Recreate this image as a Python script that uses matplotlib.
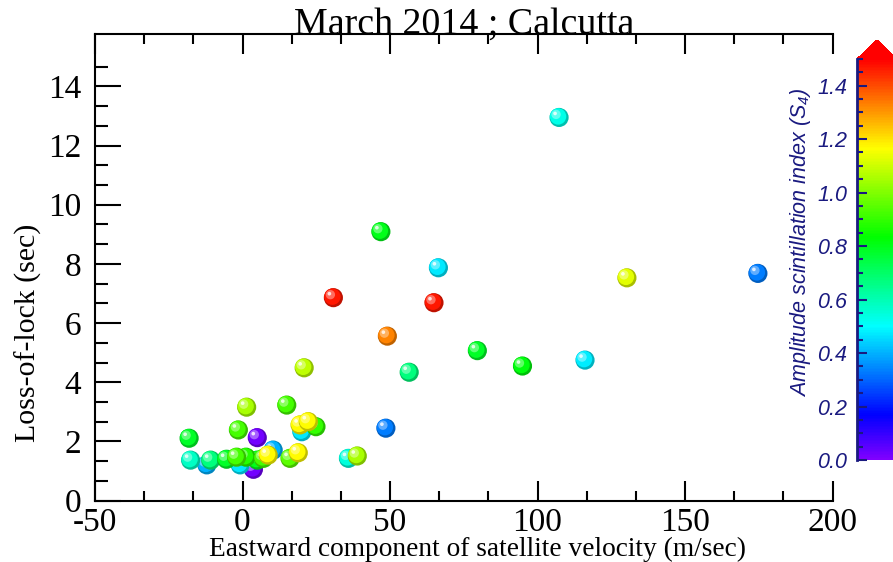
import numpy as np
import matplotlib
matplotlib.use("Agg")
import matplotlib.pyplot as plt
from matplotlib.colors import ListedColormap, Normalize, hsv_to_rgb
from matplotlib.ticker import MultipleLocator, FixedLocator
from matplotlib.transforms import ScaledTranslation
from matplotlib.lines import Line2D

# rychlost satelitu (m/s), doba ztraty signalu (s), index S4
rychlost = [107.3, 46.9, 66.4, 30.8, 64.9, 49.1, 130.3, 174.7, 79.6, 94.9,
            116.1, 56.5, 20.9, 48.6,
            -18.1, 1.4, 15.0, -1.4, 5.0, 20.1, 19.5, 22.3, 24.9,
            -17.6, -12.1, -10.8, -5.4, -2.0, -0.8, 1.2, 3.7, 5.0, 7.1,
            10.4, 8.7, 16.1, 18.9, 35.9, 38.9]
ztrata = [12.95, 9.09, 7.87, 6.86, 6.69, 5.56, 7.53, 7.68, 5.07, 4.55,
          4.75, 4.34, 4.49, 2.45,
          2.11, 3.16, 3.23, 2.39, 2.13, 2.33, 2.56, 2.67, 2.50,
          1.37, 1.21, 1.37, 1.40, 1.47, 1.21, 1.47, 1.06, 1.37, 1.43,
          1.71, 1.54, 1.43, 1.62, 1.43, 1.51]
s4 = [0.53, 0.80, 0.47, 1.47, 1.47, 1.33, 1.13, 0.33, 0.78, 0.82,
      0.48, 0.67, 1.08, 0.33,
      0.78, 1.05, 0.92, 0.92, 0.02, 0.47, 1.17, 1.17, 0.90,
      0.58, 0.40, 0.67, 0.78, 0.92, 0.47, 0.88, 0.02, 0.80, 0.92,
      0.40, 1.17, 0.95, 1.17, 0.55, 1.05]

nadpis = "March 2014 ; Calcutta"
popis_x = "Eastward component of satellite velocity (m/sec)"
popis_y = "Loss-of-lock (sec)"
popis_cb = r"Amplitude scintillation index (S$_{\mathit{4}}$)"
cb_ticks = [0.0, 0.2, 0.4, 0.6, 0.8, 1.0, 1.2, 1.4]

navy = "#1a1a80"

plt.rcParams["font.family"] = ["Liberation Serif", "DejaVu Serif"]
plt.rcParams["axes.unicode_minus"] = False
plt.rcParams["mathtext.fontset"] = "custom"
plt.rcParams["mathtext.it"] = "Liberation Sans:italic"
plt.rcParams["mathtext.rm"] = "Liberation Sans:italic"

# duhova paleta: fialova (0) -> cervena (1.5)
hue = np.linspace(0.75, 0.0, 256)
duha = ListedColormap(hsv_to_rgb(np.column_stack([hue, np.ones(256), np.ones(256)])))
norm = Normalize(vmin=0.0, vmax=1.5)


def zobraz_graf():
    fig = plt.figure(figsize=(8.93, 5.62), dpi=100)
    ax = fig.add_axes([0.1064, 0.1091, 0.8259, 0.8299])

    ax.set_xlim(-50, 200)
    ax.set_ylim(0, 15.76)

    # kulicky se stinovanim, vyssi S4 kreslime navrch
    def posun(dx, dy):
        return ax.transData + ScaledTranslation(dx / 100, dy / 100, fig.dpi_scale_trans)

    poradi = np.argsort(s4, kind="stable")
    for k, i in enumerate(poradi):
        c = np.array(duha(norm(s4[i]))[:3])
        z = 3 + k * 0.01
        ax.scatter([rychlost[i]], [ztrata[i]], s=190, color=c * 0.75,
                   edgecolors="none", zorder=z, clip_on=False)
        ax.scatter([rychlost[i]], [ztrata[i]], s=140, color=c,
                   edgecolors="none", zorder=z + 0.001, transform=posun(-1, 1))
        ax.scatter([rychlost[i]], [ztrata[i]], s=45, color=c * 0.5 + 0.5,
                   edgecolors="none", zorder=z + 0.002, alpha=0.75,
                   transform=posun(-3, 3))
        ax.scatter([rychlost[i]], [ztrata[i]], s=7, color="white",
                   edgecolors="none", zorder=z + 0.003, alpha=0.8,
                   transform=posun(-4, 4))

    ax.spines["right"].set_visible(False)
    for s in ["left", "bottom", "top"]:
        ax.spines[s].set_linewidth(1.5)

    ax.xaxis.set_major_locator(MultipleLocator(50))
    ax.xaxis.set_minor_locator(MultipleLocator(50 / 3))
    ax.yaxis.set_major_locator(MultipleLocator(2))
    ax.yaxis.set_minor_locator(FixedLocator(np.arange(0, 15, 2 / 3)))

    ax.tick_params(axis="x", which="both", direction="in", top=True, width=1.5,
                   labelsize=24, pad=5)
    ax.tick_params(axis="x", which="major", length=14.5)
    ax.tick_params(axis="x", which="minor", length=7.5)
    ax.tick_params(axis="y", which="both", direction="in", right=False, width=1.5,
                   labelsize=24, pad=10)
    ax.tick_params(axis="y", which="major", length=19)
    ax.tick_params(axis="y", which="minor", length=9.5)

    # nadpis sedi tesne nad horni osou
    ax.text(0.5, 1.002, nadpis, transform=ax.transAxes, ha="center",
            va="baseline", fontsize=27.3)
    ax.set_xlabel(popis_x, fontsize=19.7, va="center")
    ax.xaxis.set_label_coords(0.518, -0.104)
    ax.set_ylabel(popis_y, fontsize=21.5, va="center")
    ax.yaxis.set_label_coords(-0.091, 0.36)

    # barevna skala (vcetne sipky nahore)
    cax = fig.add_axes([0.9597, 0.1815, 0.0448, 0.7473])
    sm = plt.cm.ScalarMappable(norm=norm, cmap=duha)
    cb = fig.colorbar(sm, cax=cax, extend="max", extendfrac=0.047)
    cb.outline.set_visible(False)
    cb.set_ticks(cb_ticks)
    cb.ax.yaxis.set_minor_locator(MultipleLocator(0.05))
    cax.yaxis.set_ticks_position("left")
    cax.yaxis.set_label_position("left")
    cax.tick_params(which="both", direction="in", color=navy, width=1.5,
                    labelcolor=navy, pad=7)
    cax.tick_params(which="major", length=7.5)
    cax.tick_params(which="minor", length=4)
    cax.set_yticklabels([f"{t:.1f}" for t in cb_ticks],
                        family="Liberation Sans", style="italic", fontsize=15.5)
    cax.add_line(Line2D([0, 0], [0, 1.5], transform=cax.get_yaxis_transform(),
                        color=navy, lw=2, clip_on=False))

    fig.text(0.8959, 0.569, popis_cb, rotation=90, ha="center", va="center",
             color=navy, family="Liberation Sans", style="italic", fontsize=15.5)

    fig.savefig("out.png", dpi=100)


if __name__ == "__main__":
    zobraz_graf()
